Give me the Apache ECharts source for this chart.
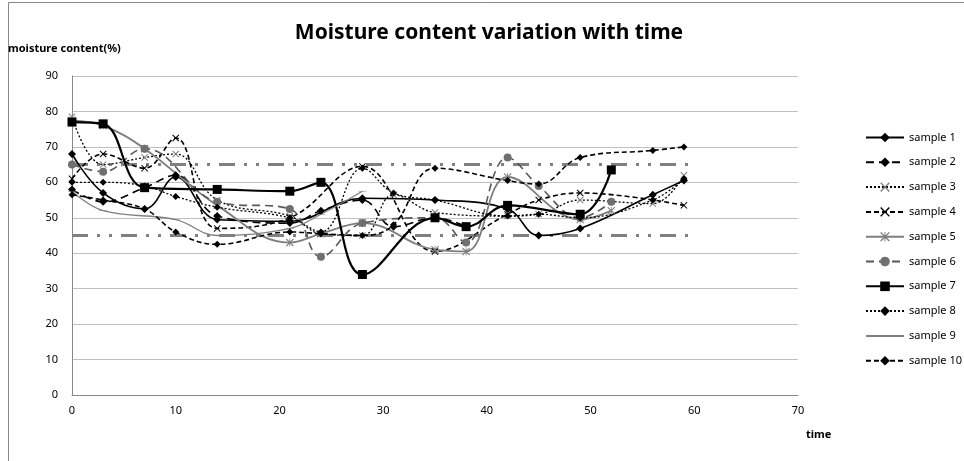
<!DOCTYPE html>
<html><head><meta charset="utf-8">
<script src="https://cdn.jsdelivr.net/npm/echarts@6/dist/echarts.min.js"></script>
<style>html,body{margin:0;padding:0;background:#fff}#c{width:964px;height:461px}</style>
</head><body><div id="c"></div>
<script>
var seriesNames = ['sample 1','sample 2','sample 3','sample 4','sample 5','sample 6','sample 7','sample 8','sample 9','sample 10'];
var xTicks = [0,10,20,30,40,50,60,70];
var yTicks = [0,10,20,30,40,50,60,70,80,90];
var s1 = [[0,68],[3,57],[7,52.5],[10,61.5],[14,49.5],[21,49],[28,55.5],[35,55],[42,52.5],[45,45],[49,47],[56,56.5],[59,60.5]];
var s2 = [[0,58],[3,54.5],[7,58.5],[10,62],[14,50.5],[21,48.5],[24,52],[28,55],[31,47.5],[35,50],[38,47.5]];
var s3 = [[0,78.5],[3,65],[7,67],[10,68],[14,55],[21,50.5],[24,45.5],[28,45],[31,56.5],[35,51.5],[42,50.5],[45,51],[49,55],[56,54],[59,62]];
var s4 = [[0,61],[3,68],[7,64],[10,72.5],[14,47],[21,50],[28,64.5],[35,40.5],[42,51],[45,55],[49,57],[59,53.5]];
var s5 = [[0,77.5],[3,76],[7,69.5],[14,53.5],[21,43],[24,45.5],[28,48.5],[35,41],[38,40.5],[42,61.5],[49,49.5],[52,52]];
var s6 = [[0,65],[3,63],[7,69.5],[14,54.5],[21,52.5],[24,39],[28,48.5],[35,50],[38,43],[42,67],[45,59],[49,50],[52,54.5]];
var s7 = [[0,77],[3,76.5],[7,58.5],[14,58],[21,57.5],[24,60],[28,34],[35,50],[38,47.5],[42,53.5],[49,51],[52,63.5]];
var s8 = [[0,60],[3,60],[7,59],[10,56],[14,53],[21,50],[24,46],[28,64],[31,57],[35,55],[42,50.5],[45,51],[49,50],[56,55],[59,61]];
var s9 = [[0,57.5],[3,52],[10,49.5],[14,45],[21,47],[24,51],[28,57.5]];
var s10 = [[0,56.5],[3,55],[7,52.5],[10,46],[14,42.5],[21,46],[24,45.5],[28,45],[31,48],[35,64],[42,60.5],[45,59.5],[49,67],[56,69],[59,70]];
var upperLimit = [[0,65],[60,65]];
var lowerLimit = [[0,45],[60,45]];

var X = 'path://M0,2 L2,0 L10,8 L18,0 L20,2 L12,10 L20,18 L18,20 L10,12 L2,20 L0,18 L8,10 Z';
var AST = 'path://M0,2 L2,0 L10,8 L18,0 L20,2 L12,10 L20,18 L18,20 L10,12 L2,20 L0,18 L8,10 Z M9,0 L11,0 L11,20 L9,20 Z';
var DASH = 'path://M0,0 L16,0 L16,4 L0,4 Z';
var F = 'Noto Sans';
function mk(name, data, color, mColor, width, type, symbol, size){
  return {name:name, type:'line', data:data, smooth:0.4, symbol:symbol, symbolSize:size, symbolKeepAspect:true,
    lineStyle:{color:color, width:width, type:type},
    itemStyle:{color:mColor, borderWidth:0}, emphasis:{disabled:true}, z:3};
}
var series = [
  mk(seriesNames[0], s1, '#000', '#000', 1.6, 'solid', 'diamond', 8),
  mk(seriesNames[1], s2, '#000', '#000', 1.6, [8,5], 'diamond', 8),
  mk(seriesNames[2], s3, '#000', '#7f7f7f', 1.3, [2,2], X, 7),
  mk(seriesNames[3], s4, '#000', '#000', 1.6, [5,3], X, 7),
  mk(seriesNames[4], s5, '#7f7f7f', '#7f7f7f', 1.8, 'solid', AST, 8),
  mk(seriesNames[5], s6, '#595959', '#6f6f6f', 1.6, [8,5], 'circle', 8),
  mk(seriesNames[6], s7, '#000', '#000', 2.2, 'solid', 'rect', 9),
  mk(seriesNames[7], s8, '#000', '#000', 1.3, [2,2], 'diamond', 7),
  mk(seriesNames[8], s9, '#7f7f7f', '#7f7f7f', 1.3, 'solid', DASH, [8,2]),
  mk(seriesNames[9], s10, '#000', '#000', 1.6, [5,3], 'diamond', 7),
  {name:'upper', type:'line', data:upperLimit, symbol:'none', lineStyle:{color:'#808080', width:3, type:[16,9,3,9,3,9]}, z:2, silent:true},
  {name:'lower', type:'line', data:lowerLimit, symbol:'none', lineStyle:{color:'#808080', width:3, type:[16,9,3,9,3,9]}, z:2, silent:true}
];
var legendData = seriesNames.map(function(n){
  return n === 'sample 9' ? {name:n, itemStyle:{opacity:0}} : {name:n};
});
var chart = echarts.init(document.getElementById('c'), null, {renderer:'canvas'});
chart.setOption({
  animation:false,
  backgroundColor:'#fff',
  title:{text:'Moisture content variation with time', left:484, top:18, textAlign:'center',
    textStyle:{fontFamily:F, fontWeight:'bold', fontSize:21, color:'#000'}},
  grid:{left:72, right:166, top:76, bottom:66, containLabel:false, outerBoundsMode:'none'},
  legend:{data:legendData, orient:'vertical', left:860, top:127, itemWidth:38, itemHeight:12, itemGap:13.8,
    textStyle:{fontFamily:F, fontSize:11, color:'#000'}},
  xAxis:{type:'value', min:0, max:70, interval:10, name:'time', nameLocation:'end',
    nameGap:0, nameTextStyle:{fontFamily:F, fontWeight:'bold', fontSize:11, color:'#000', padding:[34,0,0,8], align:'left', verticalAlign:'top'},
    axisLine:{show:true, lineStyle:{color:'#888'}}, axisTick:{show:false}, splitLine:{show:false},
    axisLabel:{fontFamily:F, fontSize:11, color:'#000', margin:10, formatter:function(v){return xTicks.indexOf(v)>=0?String(v):'';}}},
  yAxis:{type:'value', min:0, max:90, interval:10, name:'moisture content(%)', nameLocation:'end', nameGap:22,
    nameTextStyle:{fontFamily:F, fontWeight:'bold', fontSize:11, color:'#000', align:'left', padding:[0,0,0,-64]},
    axisLine:{show:true, lineStyle:{color:'#888'}}, axisTick:{show:false},
    splitLine:{lineStyle:{color:'#c0c0c0'}},
    axisLabel:{fontFamily:F, fontSize:11, color:'#000', margin:14, formatter:function(v){return yTicks.indexOf(v)>=0?String(v):'';}}},
  graphic:[{type:'rect', shape:{x:8.5, y:2.5, width:1000, height:500}, style:{fill:null, stroke:'#888', lineWidth:1}, silent:true, z:-1}],
  series:series
});
</script></body></html>
